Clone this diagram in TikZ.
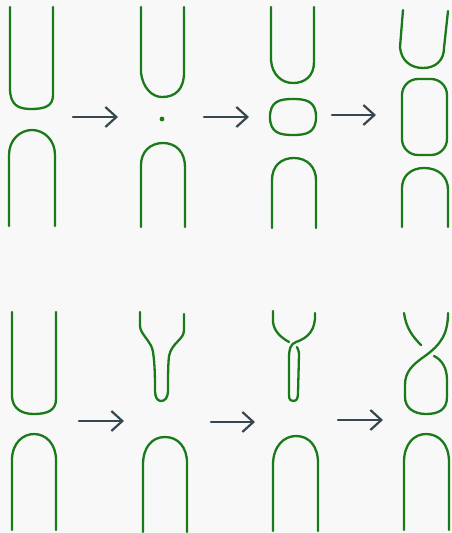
\documentclass[tikz,border=0pt]{standalone}
\usetikzlibrary{arrows.meta}
\definecolor{kgreen}{HTML}{1A7A1A}
\definecolor{kgrey}{HTML}{37474F}
\definecolor{kbg}{HTML}{F8F8F8}
\tikzset{
  strand/.style={draw=kgreen, line width=2.3pt, line cap=round, line join=round},
  moveto/.style={draw=kgrey, line width=2.2pt, line cap=round, -{Straight Barb[length=11pt,width=20pt,line width=2.2pt]}}
}
\begin{document}
\begin{tikzpicture}[x=1pt,y=-1pt]
\fill[kbg] (0,0) rectangle (452,533);
\useasboundingbox (0,0) rectangle (452,533);
% ---------- top row ----------
% panel 1
\draw[strand] (10,7) -- (10,88) .. controls (10,105) and (18,109) .. (31,109) .. controls (45,109) and (53,106) .. (53,95) -- (53,7);
\draw[strand] (9,226) -- (9,155) .. controls (9,140) and (20,130) .. (32,130) .. controls (44,130) and (55,140) .. (55,155) -- (55,226);
% panel 2
\draw[strand] (141,7) -- (141,73) .. controls (143,88) and (152,97) .. (162,97) .. controls (175,97) and (184,90) .. (184,72) -- (184,7);
\fill[kgreen] (162,119) circle (2.4);
\draw[strand] (141,227) -- (141,165) .. controls (141,152) and (150,143) .. (163,143) .. controls (176,143) and (185,152) .. (185,167) -- (185,227);
% panel 3
\draw[strand] (271,7) -- (271,60) .. controls (272,75) and (282,83) .. (293,83) .. controls (305,83) and (314,76) .. (314,62) -- (314,7);
\draw[strand] (270,117) .. controls (270,101) and (280,99) .. (293,99) .. controls (306,99) and (316,101) .. (316,117) .. controls (316,133) and (306,135) .. (293,135) .. controls (280,135) and (270,133) .. (270,117) -- cycle;
\draw[strand] (272,228) -- (272,180) .. controls (272,166) and (281,158) .. (294,158) .. controls (307,158) and (316,167) .. (316,180) -- (316,228);
% panel 4
\draw[strand] (403,10) -- (400,47) .. controls (401,60) and (410,68) .. (423,68) .. controls (436,68) and (444,60) .. (444,48) -- (448,11);
\draw[strand, rounded corners=16pt] (402,79) rectangle (447,155);
\draw[strand] (402,227) -- (402,188) .. controls (402,176) and (411,168) .. (424,168) .. controls (438,168) and (448,176) .. (448,190) -- (448,227);
% arrows top
\coordinate (a1s) at (73,117); \coordinate (a1e) at (118,117);
\coordinate (a2s) at (204,117); \coordinate (a2e) at (249,117);
\coordinate (a3s) at (332,115); \coordinate (a3e) at (376,115);
\draw[moveto] (a1s) -- (a1e);
\draw[moveto] (a2s) -- (a2e);
\draw[moveto] (a3s) -- (a3e);
% ---------- bottom row ----------
% panel 1
\draw[strand] (12,312) -- (12,397) .. controls (13,409) and (22,414) .. (34,414) .. controls (48,414) and (56,410) .. (56,399) -- (56,312);
\draw[strand] (12,530) -- (12,460) .. controls (12,443) and (23,434) .. (34,434) .. controls (46,434) and (56,444) .. (56,460) -- (56,530);
% panel 2
\draw[strand] (140,312) -- (140,326) .. controls (140,334) and (152,342) .. (153,352) .. controls (155,365) and (155,380) .. (155,391) .. controls (155,398) and (158,401) .. (161,401) .. controls (165,401) and (168,398) .. (168,390) .. controls (168,378) and (168,365) .. (169,356) .. controls (172,342) and (184,340) .. (184,330) -- (184,314);
\draw[strand] (143,532) -- (143,465) .. controls (143,447) and (152,437) .. (165,437) .. controls (178,437) and (187,447) .. (187,463) -- (187,532);
% panel 3
\draw[strand] (273,311) -- (273,322) .. controls (274,332) and (282,338) .. (289,342);
\draw[strand] (315,313) .. controls (316,330) and (308,338) .. (296,342) .. controls (290,344) and (289,350) .. (289,358) -- (289,395) .. controls (289,400) and (291,401) .. (293,401) .. controls (297,401) and (298,398) .. (298,393) -- (299,355) .. controls (299,351) and (298,349) .. (297,347);
\draw[strand] (273,531) -- (273,465) .. controls (273,446) and (284,436) .. (296,436) .. controls (309,436) and (318,446) .. (318,463) -- (318,531);
% panel 4
\draw[strand] (404,313) .. controls (406,328) and (413,337) .. (421,345);
\draw[strand] (448,313) .. controls (448,335) and (440,345) .. (425,356) .. controls (412,365) and (405,372) .. (405,385) -- (405,397) .. controls (405,408) and (414,414) .. (426,414) .. controls (438,414) and (447,410) .. (447,397) -- (447,380) .. controls (447,368) and (442,360) .. (434,356);
\draw[strand] (404,530) -- (404,462) .. controls (404,444) and (414,434) .. (426,434) .. controls (439,434) and (449,444) .. (449,462) -- (449,530);
% arrows bottom
\coordinate (b1s) at (79,421); \coordinate (b1e) at (124,421);
\coordinate (b2s) at (211,422); \coordinate (b2e) at (255,422);
\coordinate (b3s) at (338,420); \coordinate (b3e) at (383,420);
\draw[moveto] (b1s) -- (b1e);
\draw[moveto] (b2s) -- (b2e);
\draw[moveto] (b3s) -- (b3e);
\end{tikzpicture}
\end{document}
